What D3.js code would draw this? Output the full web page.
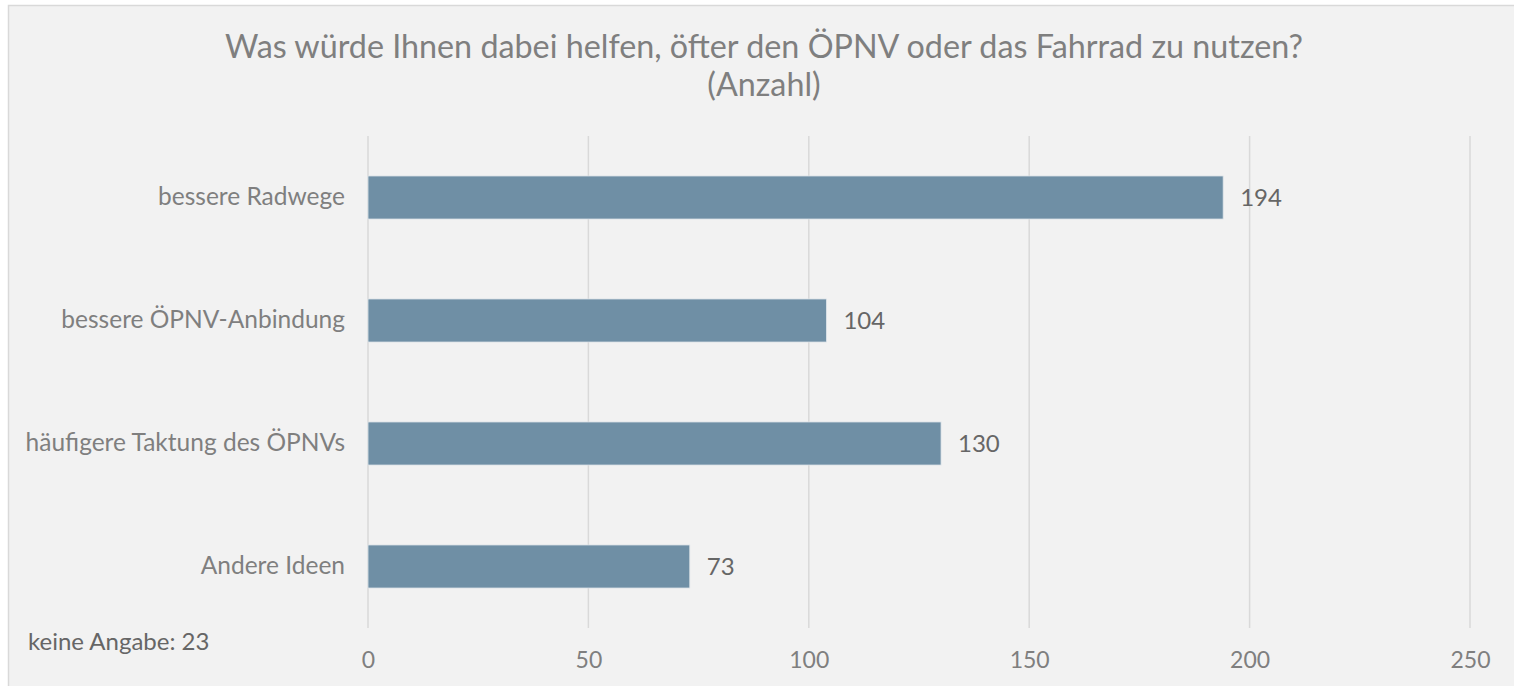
<!DOCTYPE html>
<html>
<head>
<meta charset="utf-8">
<script src="https://cdn.jsdelivr.net/npm/d3@7"></script>
<style>
	body { margin: 0; background: #ffffff; }
	svg { display: block; font-family: Lato, "Open Sans", sans-serif; }
</style>
</head>
<body>
<svg id="chart" width="1514" height="686"></svg>
<script>

var categories = [ "bessere Radwege", "bessere ÖPNV-Anbindung", "häufigere Taktung des ÖPNVs", "Andere Ideen" ];
var values = [ 194, 104, 130, 73 ];
var xTicks = [ 0, 50, 100, 150, 200, 250 ];
var titleLines = [ "Was würde Ihnen dabei helfen, öfter den ÖPNV oder das Fahrrad zu nutzen?", "(Anzahl)" ];
var note = "keine Angabe: 23";

var svg = d3.select("#chart");

var margin = {
	top: 136,
	left: 368
};

// chart area
svg.append("rect")
	.attr("x", 8.5)
	.attr("y", 5.5)
	.attr("width", 1514)
	.attr("height", 700)
	.attr("fill", "#f2f2f2")
	.attr("stroke", "#d9d9d9")
	.attr("stroke-width", 1.5);

svg.append("text")
	.attr("text-anchor", "middle")
	.attr("fill", "#7f7f7f")
	.attr("font-size", 32.3)
	.selectAll("tspan")
	.data(titleLines)
	.join("tspan")
	.attr("x", 764)
	.attr("y", (d, i) => 58 + i * 38)
	.text(d => d);

var g = svg.append("g")
	.attr("transform", `translate(${margin.left},${margin.top})`);

var x = d3.scaleLinear()
	.domain([ 0, 250 ])
	.range([ 0, 1102 ]);

var y = d3.scaleBand()
	.domain(categories)
	.range([ 0, 492 ])
	.paddingInner(0.65)
	.paddingOuter(0.325);

// gridlines
g.append("g")
	.selectAll("line")
	.data(xTicks)
	.join("line")
	.attr("x1", d => x(d))
	.attr("x2", d => x(d))
	.attr("y1", 0)
	.attr("y2", 492)
	.attr("stroke", "#d9d9d9")
	.attr("stroke-width", 1.5);

var xAxis = d3.axisBottom(x)
	.tickValues(xTicks)
	.tickSize(0)
	.tickPadding(0);

g.append("g")
	.attr("transform", "translate(0,524)")
	.call(xAxis)
	.call(a => a.select(".domain").remove())
	.call(a => a.selectAll("text")
		.attr("fill", "#7f7f7f")
		.attr("font-size", 23)
		.attr("font-family", "Lato, sans-serif")
		.attr("dy", "0.35em"));

var yAxis = d3.axisLeft(y)
	.tickSize(0)
	.tickPadding(23);

g.append("g")
	.call(yAxis)
	.call(a => a.select(".domain").remove())
	.call(a => a.selectAll("text")
		.attr("fill", "#7f7f7f")
		.attr("font-size", 24.5)
		.attr("font-family", "Lato, sans-serif"));

g.selectAll(".bar")
	.data(values)
	.join("rect")
	.attr("class", "bar")
	.attr("x", x(0))
	.attr("y", (d, i) => y(categories[i]))
	.attr("width", d => x(d) - x(0))
	.attr("height", y.bandwidth())
	.attr("fill", "#6f8fa5")
	.attr("stroke", "#dfe5ea")
	.attr("stroke-width", 0.8);

g.selectAll(".val")
	.data(values)
	.join("text")
	.attr("class", "val")
	.attr("x", d => x(d) + 17)
	.attr("y", (d, i) => y(categories[i]) + y.bandwidth() / 2)
	.attr("dy", "0.35em")
	.attr("fill", "#666666")
	.attr("font-size", 24)
	.text(d => d);

svg.append("text")
	.attr("x", 28)
	.attr("y", 650)
	.attr("fill", "#666666")
	.attr("font-size", 24)
	.text(note);

</script>
</body>
</html>
